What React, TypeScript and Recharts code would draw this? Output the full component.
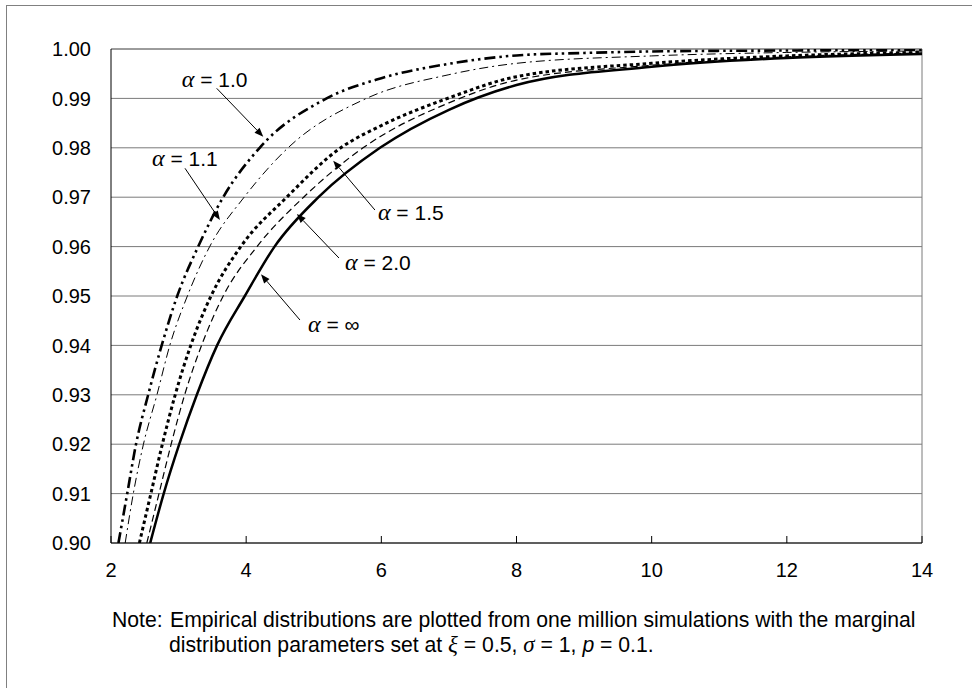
import { LineChart, Line, XAxis, YAxis, CartesianGrid, ReferenceLine } from 'recharts'

// axis ticks
const yTicks = [0.9, 0.91, 0.92, 0.93, 0.94, 0.95, 0.96, 0.97, 0.98, 0.99, 1.0]
const xTicks = [2, 4, 6, 8, 10, 12, 14]

const alpha10X = [2.11, 2.24, 2.37, 2.55, 2.75, 2.98, 3.29, 3.66, 4.2, 5.19, 6, 7, 8, 9, 10, 12, 14]
const alpha10Y = [0.9, 0.91, 0.92, 0.93, 0.94, 0.95, 0.96, 0.97, 0.98, 0.99, 0.9941, 0.997, 0.9987, 0.9992, 0.9995, 0.9997, 0.9998]

const alpha11X = [2.21, 2.33, 2.48, 2.68, 2.87, 3.13, 3.46, 3.97, 4.62, 5.78, 7, 8, 10, 12, 14]
const alpha11Y = [0.9, 0.91, 0.92, 0.93, 0.94, 0.95, 0.96, 0.97, 0.98, 0.99, 0.9948, 0.9971, 0.9986, 0.9993, 0.9996]

const alpha15X = [2.42, 2.59, 2.76, 2.95, 3.18, 3.48, 3.92, 4.6, 5.4, 6, 7, 8, 10, 12, 14]
const alpha15Y = [0.9, 0.91, 0.92, 0.93, 0.94, 0.95, 0.96, 0.97, 0.98, 0.9845, 0.9901, 0.9944, 0.9971, 0.9986, 0.9993]

const alpha20X = [2.53, 2.71, 2.89, 3.09, 3.34, 3.66, 4.16, 4.85, 5.73, 7, 8, 10, 12, 14]
const alpha20Y = [0.9, 0.91, 0.92, 0.93, 0.94, 0.95, 0.96, 0.97, 0.98, 0.9891, 0.9937, 0.9967, 0.9984, 0.9992]

const alphaInfX = [2.58, 2.78, 3.01, 3.27, 3.57, 3.98, 4.42, 5.07, 5.98, 7, 8, 10, 12, 14]
const alphaInfY = [0.9, 0.91, 0.92, 0.93, 0.94, 0.95, 0.96, 0.97, 0.98, 0.9877, 0.9927, 0.9964, 0.9982, 0.999]

const zip = (xs: number[], ys: number[]) => xs.map((x, i) => ({ x, y: ys[i] }))

const series = [
  { key: 'a10', data: zip(alpha10X, alpha10Y), width: 2.6, dash: '11 4 2.5 4 2.5 4' },
  { key: 'a11', data: zip(alpha11X, alpha11Y), width: 1, dash: '9 4 2 4' },
  { key: 'a15', data: zip(alpha15X, alpha15Y), width: 3, dash: '3.5 3' },
  { key: 'a20', data: zip(alpha20X, alpha20Y), width: 1.2, dash: '7 4' },
  { key: 'ainf', data: zip(alphaInfX, alphaInfY), width: 2.5, dash: undefined },
]

// label arrows: start near the text, tip on the curve (data coords)
const annotations = [
  { label: '1.0', from: { x: 3.564, y: 0.99204 }, to: { x: 4.253, y: 0.98225 }, dx: -35, dy: -1 },
  { label: '1.1', from: { x: 3.095, y: 0.97585 }, to: { x: 3.612, y: 0.96538 }, dx: -33, dy: -2 },
  { label: '1.5', from: { x: 5.905, y: 0.96741 }, to: { x: 5.288, y: 0.97739 }, dx: 3, dy: 10 },
  { label: '2.0', from: { x: 5.373, y: 0.95769 }, to: { x: 4.751, y: 0.9666 }, dx: 6, dy: 12 },
  { label: '∞', from: { x: 4.796, y: 0.94514 }, to: { x: 4.219, y: 0.95439 }, dx: 8, dy: 12 },
]

const font = '"Liberation Sans", Arial, sans-serif'
const serif = '"Liberation Serif", serif'

function arrowShape(label: string, dx: number, dy: number) {
  return (props: any) => {
    const { x1, y1, x2, y2 } = props
    const ang = Math.atan2(y2 - y1, x2 - x1)
    const len = 9
    const hw = 3.5
    const bx = x2 - len * Math.cos(ang)
    const by = y2 - len * Math.sin(ang)
    const px = -Math.sin(ang) * hw
    const py = Math.cos(ang) * hw
    return (
      <g>
        <line x1={x1} y1={y1} x2={bx} y2={by} stroke="#000" strokeWidth={1} />
        <polygon points={`${x2},${y2} ${bx + px},${by + py} ${bx - px},${by - py}`} fill="#000" />
        <text x={x1 + dx} y={y1 + dy} fontSize={21} fontFamily={font} fill="#000">
          <tspan fontStyle="italic" fontFamily={serif} fontSize={24}>α</tspan>
          <tspan>{` = ${label}`}</tspan>
        </text>
      </g>
    )
  }
}

function XTick(props: any) {
  const { x, y, payload } = props
  return (
    <g>
      <line x1={x} x2={x} y1={y - 20} y2={y - 27} stroke="#000" strokeWidth={1} />
      <text x={x} y={y} dy="0.71em" textAnchor="middle" fontSize={20} fontFamily={font} fill="#000">
        {payload.value}
      </text>
    </g>
  )
}

export default function App() {
  return (
    <div style={{ position: 'absolute', left: 0, top: 0, width: 972, height: 688, overflow: 'hidden', background: '#fff', fontFamily: font }}>
      <div style={{ position: 'absolute', left: 6, top: 5, width: 990, height: 700, border: '1px solid #808080' }} />
      <div style={{ position: 'absolute', left: 0, top: 0 }}>
        <LineChart width={972} height={688} margin={{ top: 49, right: 50, bottom: 105, left: 0 }}>
          <CartesianGrid vertical={false} stroke="#7a7a7a" strokeWidth={1} />
          <XAxis
            type="number"
            dataKey="x"
            domain={[2, 14]}
            ticks={xTicks}
            allowDataOverflow
            height={40}
            tickLine={false}
            tickSize={0}
            tickMargin={20}
            axisLine={{ stroke: '#000', strokeWidth: 1 }}
            tick={<XTick />}
          />
          <YAxis
            type="number"
            dataKey="y"
            domain={[0.9, 1.0]}
            ticks={yTicks}
            allowDataOverflow
            width={111}
            tickLine={false}
            tickSize={0}
            tickMargin={20}
            axisLine={{ stroke: '#000', strokeWidth: 1 }}
            tickFormatter={(v: number) => v.toFixed(2)}
            tick={{ fontSize: 20, fill: '#000', fontFamily: font }}
          />
          <ReferenceLine x={14} stroke="#7a7a7a" strokeWidth={1} />
          <ReferenceLine y={1.0} stroke="#7a7a7a" strokeWidth={1} />
          {series.map((s) => (
            <Line
              key={s.key}
              data={s.data}
              dataKey="y"
              type="monotone"
              stroke="#000"
              strokeWidth={s.width}
              strokeDasharray={s.dash}
              dot={false}
              activeDot={false}
              isAnimationActive={false}
            />
          ))}
          {annotations.map((a) => (
            <ReferenceLine
              key={a.label}
              segment={[a.from, a.to]}
              ifOverflow="visible"
              shape={arrowShape(a.label, a.dx, a.dy)}
            />
          ))}
        </LineChart>
      </div>
      <svg width={972} height={688} style={{ position: 'absolute', left: 0, top: 0, pointerEvents: 'none' }}>
        <text x={112} y={627} fontSize={21.2} fontFamily={font} fill="#000">Note:</text>
        <text x={170} y={627} fontSize={21.2} fontFamily={font} fill="#000">
          Empirical distributions are plotted from one million simulations with the marginal
        </text>
        <text x={169} y={652} fontSize={21.2} fontFamily={font} fill="#000">
          {'distribution parameters set at '}
          <tspan fontStyle="italic" fontFamily={serif} fontSize={23}>ξ</tspan>
          {' = 0.5, '}
          <tspan fontStyle="italic" fontFamily={serif} fontSize={23}>σ</tspan>
          {' = 1, '}
          <tspan fontStyle="italic">p</tspan>
          {' = 0.1.'}
        </text>
      </svg>
    </div>
  )
}
